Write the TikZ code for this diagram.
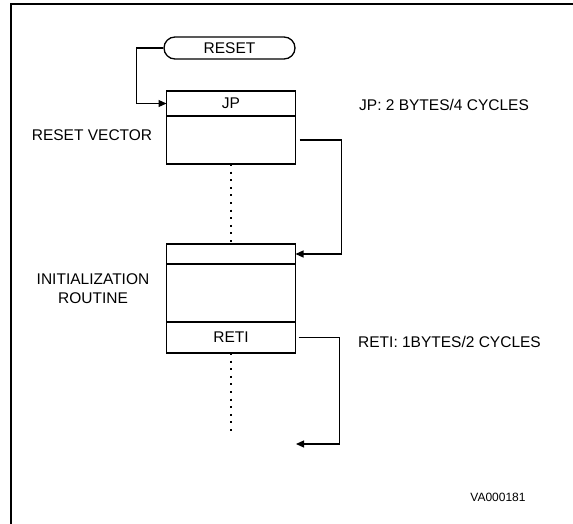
\documentclass[tikz,border=0pt]{standalone}
\usepackage{fontspec}
\setmainfont{Liberation Sans}
\usetikzlibrary{arrows.meta,positioning,shapes.misc}

\begin{document}
\begin{tikzpicture}[x=1pt, y=-1pt,
    every node/.style={font=\fontsize{15.5}{19}\selectfont},
    cell/.style={draw, line width=1.6pt, minimum width=129pt, inner sep=0pt, outer sep=0pt},
    link/.style={line width=1.2pt, -{Triangle[length=8pt,width=7pt]}},
    dots/.style={line width=1.6pt, dash pattern=on 2pt off 5.6pt}]

\useasboundingbox (0,0) rectangle (573,524);

\draw[line width=2pt] (11,540) -- (11,4) -- (580,4);

\node[draw, rounded rectangle, line width=1.3pt, minimum width=131pt, minimum height=22pt, inner sep=0pt] (reset) at (229.5,48) {RESET};

\node[cell, minimum height=25pt] (jp) at (231,103.5) {JP};
\node[cell, minimum height=48pt, below=0pt of jp] (vec) {};

\node[cell, minimum height=20pt] (hdr) at (231,254) {};
\node[cell, minimum height=58pt, below=0pt of hdr] (body) {};
\node[cell, minimum height=31pt, below=0pt of body] (reti) {RETI};

\coordinate (ret) at (296,444);
\coordinate (cont) at (231,434);

\draw[link] (reset.west) -- ++(-27,0) |- (jp.west);
\draw[link] ([xshift=4pt]vec.east) -- ++(42,0) |- (hdr.east);
\draw[link] ([xshift=3pt]reti.east) -- ++(41,0) |- (ret);

\draw[dots] (vec.south) -- (hdr.north);
\draw[dots] (reti.south) -- (cont);

\node (vlabel) at (92,135) {RESET VECTOR};
\node[align=center] (ilabel) at (93,289) {INITIALIZATION\\ROUTINE};
\node[anchor=west, inner sep=0pt] (jpnote) at (359,105) {JP: 2 BYTES/4 CYCLES};
\node[anchor=west, inner sep=0pt] (retinote) at (358,342) {RETI: 1BYTES/2 CYCLES};
\node[font=\fontsize{12}{14}\selectfont] (ref) at (498,497) {VA000181};

\end{tikzpicture}
\end{document}
